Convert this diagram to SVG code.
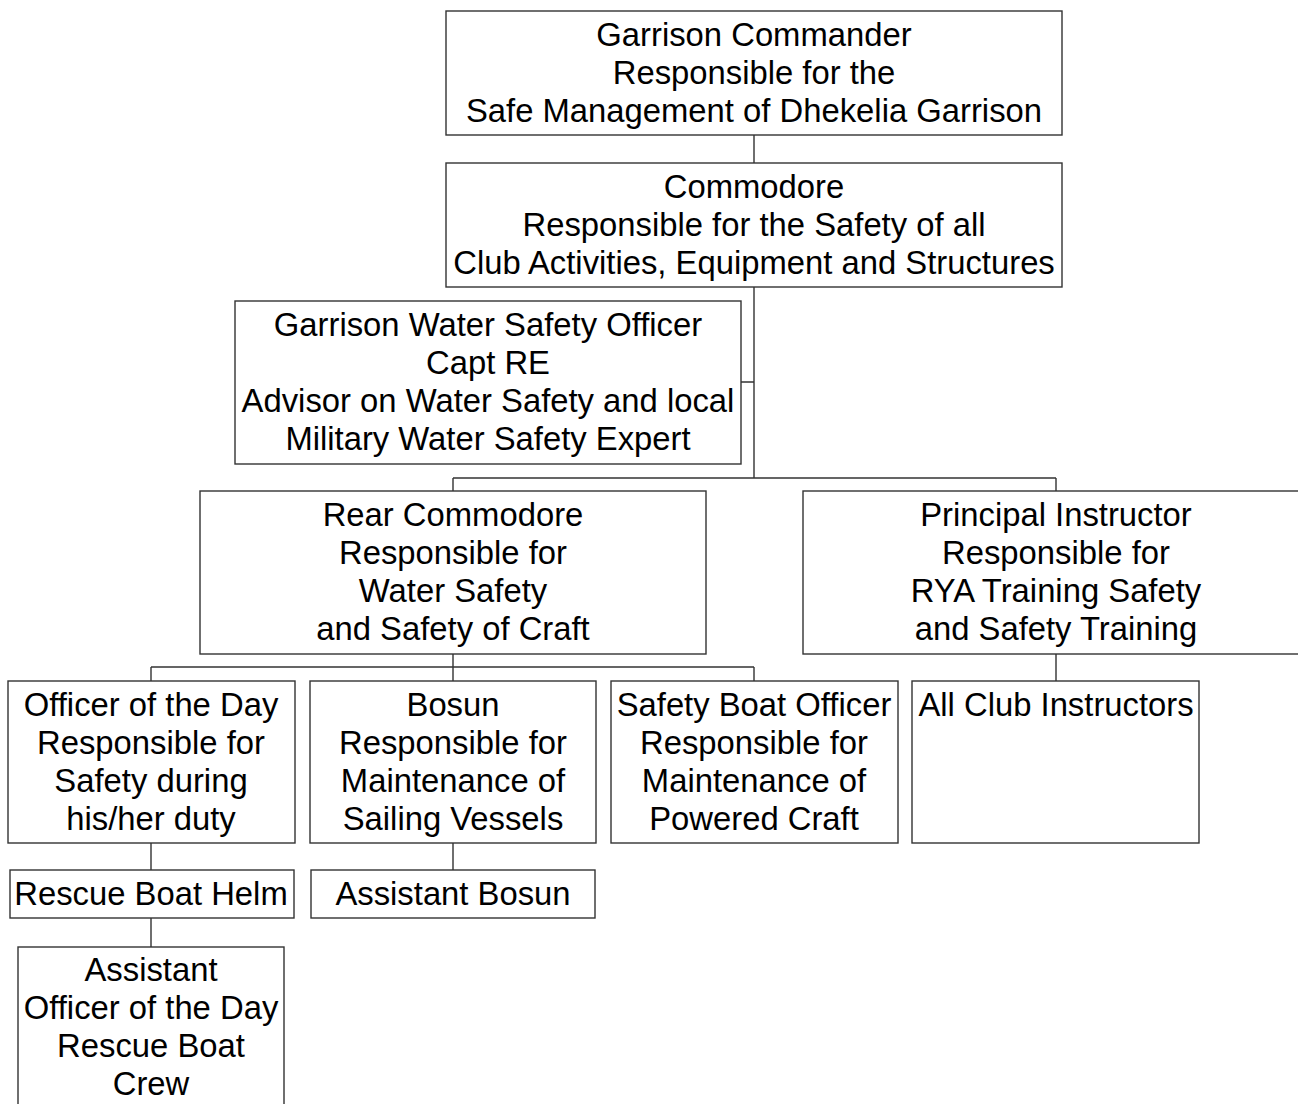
<svg xmlns="http://www.w3.org/2000/svg" width="1298" height="1104" viewBox="0 0 1298 1104">
<style>
.b{fill:#fff;stroke:#333;stroke-width:1.4}
.c{fill:none;stroke:#333;stroke-width:1.4}
text{font-family:"Liberation Sans",Arial,sans-serif;font-size:32.8px;fill:#000;text-anchor:middle}
</style>
<rect x="0" y="0" width="1298" height="1104" fill="#fff"/>
<g id="connectors">
<path class="c" d="M754 135V163M754 287V478M741 382H754M453 478H1056M453 478V491M1056 478V491M453 654V667M151 667H754M151 667V681M453 667V681M754 667V681M1056 654V681M151 843V870M453 843V870M151 918V947"/>
</g>
<g id="garrison-commander">
<rect class="b" x="446" y="11" width="616" height="124"/>
<text x="754" y="46">Garrison Commander</text>
<text x="754" y="84">Responsible for the</text>
<text x="754" y="122">Safe Management of Dhekelia Garrison</text>
</g>
<g id="commodore">
<rect class="b" x="446" y="163" width="616" height="124"/>
<text x="754" y="198">Commodore</text>
<text x="754" y="236">Responsible for the Safety of all</text>
<text x="754" y="274">Club Activities, Equipment and Structures</text>
</g>
<g id="gwso">
<rect class="b" x="235" y="301" width="506" height="163"/>
<text x="488" y="336">Garrison Water Safety Officer</text>
<text x="488" y="374">Capt RE</text>
<text x="488" y="412">Advisor on Water Safety and local</text>
<text x="488" y="450">Military Water Safety Expert</text>
</g>
<g id="rear-commodore">
<rect class="b" x="200" y="491" width="506" height="163"/>
<text x="453" y="526">Rear Commodore</text>
<text x="453" y="564">Responsible for</text>
<text x="453" y="602">Water Safety</text>
<text x="453" y="640">and Safety of Craft</text>
</g>
<g id="principal-instructor">
<rect class="b" x="803" y="491" width="506" height="163"/>
<text x="1056" y="526">Principal Instructor</text>
<text x="1056" y="564">Responsible for</text>
<text x="1056" y="602">RYA Training Safety</text>
<text x="1056" y="640">and Safety Training</text>
</g>
<g id="ood">
<rect class="b" x="8" y="681" width="287" height="162"/>
<text x="151" y="716">Officer of the Day</text>
<text x="151" y="754">Responsible for</text>
<text x="151" y="792">Safety during</text>
<text x="151" y="830">his/her duty</text>
</g>
<g id="bosun">
<rect class="b" x="310" y="681" width="286" height="162"/>
<text x="453" y="716">Bosun</text>
<text x="453" y="754">Responsible for</text>
<text x="453" y="792">Maintenance of</text>
<text x="453" y="830">Sailing Vessels</text>
</g>
<g id="sbo">
<rect class="b" x="611" y="681" width="287" height="162"/>
<text x="754" y="716">Safety Boat Officer</text>
<text x="754" y="754">Responsible for</text>
<text x="754" y="792">Maintenance of</text>
<text x="754" y="830">Powered Craft</text>
</g>
<g id="instructors">
<rect class="b" x="912" y="681" width="287" height="162"/>
<text x="1056" y="716">All Club Instructors</text>
</g>
<g id="rescue-helm">
<rect class="b" x="10" y="870" width="284" height="48"/>
<text x="151" y="905">Rescue Boat Helm</text>
</g>
<g id="asst-bosun">
<rect class="b" x="311" y="870" width="284" height="48"/>
<text x="453" y="905">Assistant Bosun</text>
</g>
<g id="asst-ood">
<rect class="b" x="18" y="947" width="266" height="170"/>
<text x="151" y="981">Assistant</text>
<text x="151" y="1019">Officer of the Day</text>
<text x="151" y="1057">Rescue Boat</text>
<text x="151" y="1095">Crew</text>
</g>
</svg>
